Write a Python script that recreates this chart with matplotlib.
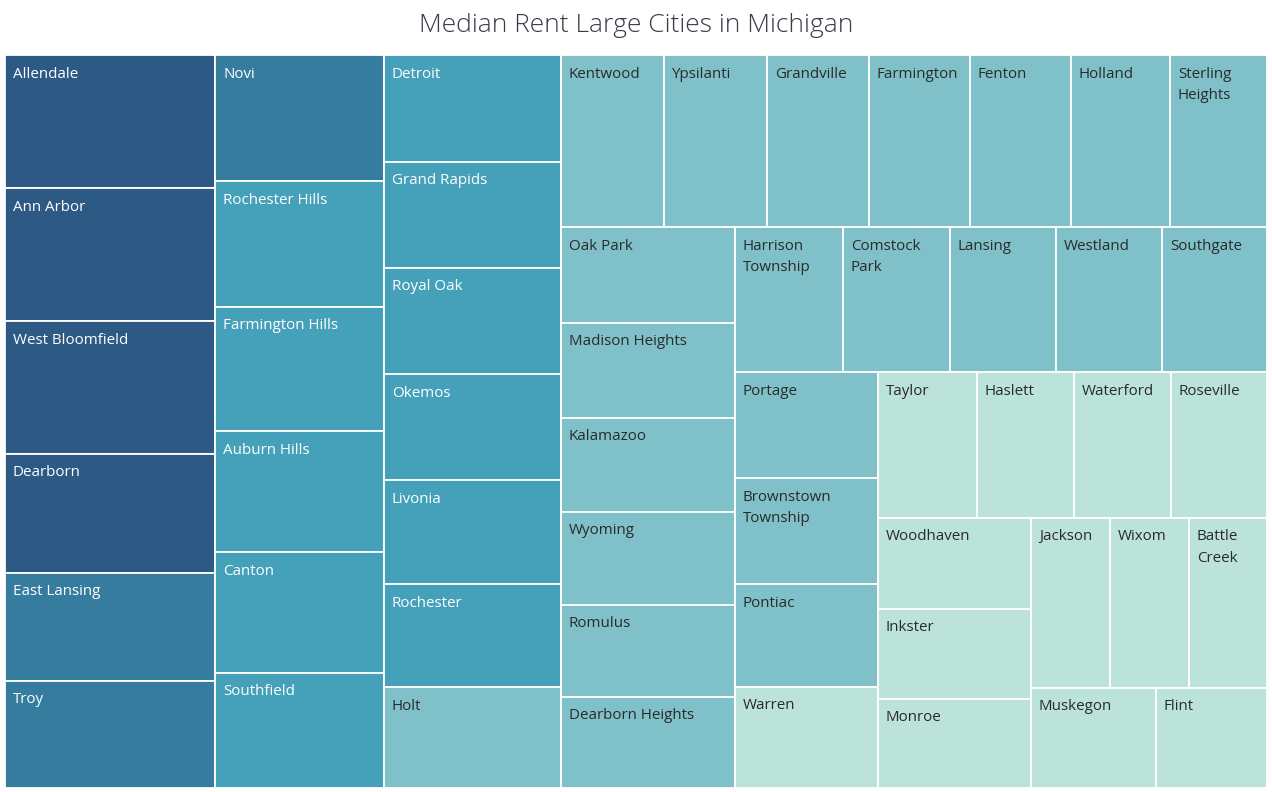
import matplotlib
matplotlib.use("Agg")
import matplotlib.pyplot as plt
from matplotlib.patches import Rectangle
from matplotlib.colors import ListedColormap, BoundaryNorm
import numpy as np

# ---- data (median rent, $) ----
cities = [
    "Allendale", "Ann Arbor", "West Bloomfield", "Dearborn", "East Lansing", "Troy",
    "Novi", "Rochester Hills", "Farmington Hills", "Auburn Hills", "Canton", "Southfield",
    "Detroit", "Grand Rapids", "Royal Oak", "Okemos", "Livonia", "Rochester", "Holt",
    "Kentwood", "Ypsilanti", "Grandville", "Farmington", "Fenton", "Holland", "Sterling Heights",
    "Oak Park", "Madison Heights", "Kalamazoo", "Wyoming", "Romulus", "Dearborn Heights",
    "Harrison Township", "Comstock Park", "Lansing", "Westland", "Southgate",
    "Portage", "Brownstown Township", "Pontiac", "Warren",
    "Taylor", "Haslett", "Waterford", "Roseville",
    "Woodhaven", "Inkster", "Monroe",
    "Jackson", "Wixom", "Battle Creek",
    "Muskegon", "Flint",
]
rents = [
    1397, 1396, 1395, 1250, 1134, 1124,
    1064, 1059, 1048, 1022, 1014, 972,
    942, 941, 938, 937, 920, 912, 890,
    886, 885, 877, 869, 868, 851, 835,
    834, 827, 814, 813, 800, 792,
    783, 776, 769, 768, 761,
    758, 757, 736, 722,
    721, 708, 707, 701,
    696, 689, 681,
    672, 671, 663,
    625, 555,
]

TITLE = "Median Rent Large Cities in Michigan"
band_colors = ["#bce3d9", "#80c1c9", "#45a1b9", "#357c9e", "#2d5985"]
text_colors = ["#2a2a2a", "#2a2a2a", "#ffffff", "#ffffff", "#ffffff"]

# ---- figure geometry (pixels) ----
FW, FH, DPI = 1272, 792, 100
AX_L, AX_T, AX_W, AX_H = 5, 55, 1262, 733
GOLDEN = (1 + 5 ** 0.5) / 2


def squarify(values, x, y, w, h, target=GOLDEN):
    vals = np.asarray(values, dtype=float)
    areas = vals * (w * h) / vals.sum()
    rects = []
    i, n = 0, len(areas)
    while i < n:
        if i == n - 1:
            rects.append((x, y, w, h))
            break
        vertical = w >= h  # column strip on the left, spanning the height
        side = h if vertical else w
        prev = np.inf
        j = i
        while j < n:
            s = areas[i:j + 1].sum()
            thick = s / side
            lengths = areas[i:j + 1] / thick
            r = thick / lengths
            cost = np.max(np.maximum(r / target, target / r))
            if cost > prev:
                break
            prev = cost
            j += 1
        group = areas[i:j]
        thick = group.sum() / side
        pos = 0.0
        for a in group:
            length = a / thick
            if vertical:
                rects.append((x, y + pos, thick, length))
            else:
                rects.append((x + pos, y, length, thick))
            pos += length
        if vertical:
            x += thick
            w -= thick
        else:
            y += thick
            h -= thick
        i = j
    return rects


fig = plt.figure(figsize=(FW / DPI, FH / DPI), dpi=DPI)
fig.patch.set_facecolor("white")
ax = fig.add_axes([AX_L / FW, 1 - (AX_T + AX_H) / FH, AX_W / FW, AX_H / FH])
ax.set_xlim(0, AX_W)
ax.set_ylim(AX_H, 0)
ax.axis("off")

vmin, vmax = min(rents), max(rents)
bounds = np.linspace(vmin, vmax + 1e-9, 6)
cmap = ListedColormap(band_colors)
norm = BoundaryNorm(bounds, cmap.N)

rects = squarify(rents, 0, 0, AX_W, AX_H)
renderer = fig.canvas.get_renderer()
FONT = "Open Sans"
FS = 10.9

for name, val, (rx, ry, rw, rh) in zip(cities, rents, rects):
    band = int(norm(val))
    ax.add_patch(Rectangle((rx, ry), rw, rh, facecolor=cmap(band),
                           edgecolor="white", linewidth=1.3))
    avail = rw - 14
    words = name.split()
    lines, cur = [], ""
    for wd in words:
        trial = (cur + " " + wd).strip()
        t = ax.text(0, 0, trial, fontsize=FS, family=FONT)
        wpx = t.get_window_extent(renderer).width
        t.remove()
        if cur and wpx > avail:
            lines.append(cur)
            cur = wd
        else:
            cur = trial
    lines.append(cur)
    ax.text(rx + 8, ry + 11.5, "\n".join(lines), fontsize=FS, family=FONT,
            color=text_colors[band], va="top", ha="left", linespacing=1.62)

fig.text(0.5, 1 - 25 / FH, TITLE, ha="center", va="center", fontsize=19,
         family=FONT, fontweight="light", color="#3b3b48")

fig.savefig("out.png", dpi=DPI, facecolor="white")
